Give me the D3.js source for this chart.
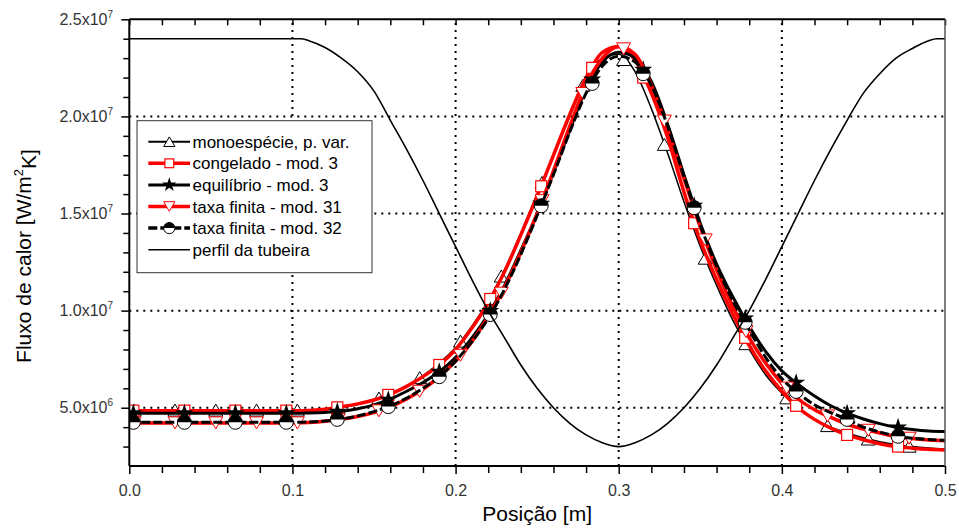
<!DOCTYPE html>
<html><head><meta charset="utf-8">
<script src="https://cdn.jsdelivr.net/npm/d3@7"></script>
<style>body{margin:0;background:#fff}svg{display:block}text{font-family:Arial,"Liberation Sans",sans-serif}</style>
</head><body><svg id="c" width="959" height="531"></svg>
<script>
// ---------- DATA (heat flux in units of 1e6 W/m2K) ----------
const xGrid = [0,0.01,0.02,0.03,0.04,0.05,0.06,0.07,0.08,0.09,0.10,0.11,0.12,0.13,0.14,0.15,0.16,0.17,0.18,0.19,0.20,0.21,0.22,0.23,0.24,0.25,0.26,0.27,0.28,0.29,0.30,0.31,0.32,0.33,0.34,0.35,0.36,0.37,0.38,0.39,0.40,0.41,0.42,0.43,0.44,0.45,0.46,0.47,0.48,0.49,0.50];
const monoLine = [4.88,4.88,4.88,4.88,4.88,4.88,4.88,4.88,4.88,4.88,4.88,4.9,4.94,5.02,5.17,5.4,5.72,6.13,6.65,7.3,8.1,9.2,10.5,12.1,14.0,16.0,18.0,20.0,22.0,23.0,23.2,22.3,20.4,18.1,15.6,13.3,11.3,9.5,8.0,6.7,5.75,4.95,4.4,4.0,3.7,3.45,3.25,3.1,3.0,2.93,2.88];
const congLine = [4.85,4.85,4.85,4.85,4.85,4.85,4.85,4.85,4.85,4.85,4.85,4.86,4.92,5.05,5.2,5.4,5.7,6.1,6.6,7.2,8.0,9.1,10.4,12.0,13.9,15.9,18.0,20.1,22.0,23.3,23.6,22.9,21.2,18.9,16.1,13.6,11.6,9.8,8.2,6.9,5.85,5.0,4.4,3.95,3.6,3.35,3.15,3.0,2.92,2.86,2.83];
const equiLine = [4.72,4.72,4.72,4.72,4.72,4.72,4.72,4.72,4.72,4.72,4.72,4.73,4.76,4.82,4.95,5.15,5.45,5.85,6.3,6.85,7.6,8.6,9.8,11.3,13.1,15.0,17.1,19.3,21.4,22.8,23.3,23.0,21.8,19.6,17.0,14.5,12.4,10.7,9.2,7.9,6.9,6.2,5.6,5.1,4.72,4.42,4.18,4.0,3.88,3.8,3.77];
const tx31Line = [4.22,4.22,4.22,4.22,4.22,4.22,4.22,4.22,4.22,4.22,4.22,4.24,4.3,4.4,4.55,4.75,5.05,5.45,5.95,6.6,7.4,8.4,9.7,11.2,13.0,15.0,17.2,19.5,21.6,23.0,23.6,23.2,21.6,19.3,16.8,14.3,12.1,10.2,8.6,7.3,6.25,5.45,4.9,4.5,4.15,3.9,3.7,3.52,3.41,3.34,3.3];
const tx32Line = [4.25,4.25,4.25,4.25,4.25,4.25,4.25,4.25,4.25,4.25,4.25,4.27,4.32,4.42,4.58,4.8,5.1,5.5,6.0,6.6,7.4,8.4,9.6,11.1,12.9,14.9,17.0,19.2,21.2,22.6,23.1,22.8,21.6,19.5,16.9,14.4,12.3,10.5,9.0,7.6,6.5,5.75,5.15,4.75,4.4,4.0,3.75,3.55,3.43,3.36,3.32];
const nozzleX = [0,0.05,0.10,0.105,0.11,0.12,0.13,0.14,0.15,0.16,0.17,0.18,0.19,0.20,0.21,0.22,0.23,0.24,0.25,0.26,0.27,0.28,0.29,0.30,0.31,0.32,0.33,0.34,0.35,0.36,0.37,0.38,0.39,0.40,0.41,0.42,0.43,0.44,0.45,0.46,0.47,0.48,0.49,0.495,0.50];
const nozzleY = [24,24,24,24,23.9,23.55,23.0,22.3,21.3,19.8,18.3,16.7,15.0,13.3,11.6,10.0,8.6,7.2,6.0,5.0,4.2,3.6,3.2,3.0,3.2,3.6,4.2,5.0,6.0,7.2,8.6,10.0,11.6,13.3,15.0,16.7,18.3,19.8,21.2,22.2,23.0,23.5,23.9,24.0,24.0];
// marker positions
const markXA = [0.0025,0.03375,0.065,0.09625,0.1275,0.15875,0.19,0.22125,0.2525,0.28375,0.315,0.34625,0.3775,0.40875,0.44,0.47125];
const markXB = [0.003,0.028,0.053,0.078,0.103,0.128,0.153,0.178,0.203,0.228,0.253,0.278,0.303,0.328,0.353,0.378,0.403,0.428,0.453,0.478];
const monoMark = [4.88,4.88,4.88,4.88,4.88,5.0,5.5,6.55,8.43,11.78,16.6,21.6,22.93,18.56,12.7,8.3,5.51,4.08,3.39,3.02];
const congMark = [4.85,4.85,4.85,4.85,5.02,5.66,7.2,10.6,16.4,22.5,22.0,14.5,8.6,5.1,3.6,3.0];
const equiMark = [4.72,4.72,4.72,4.72,4.8,5.41,6.85,9.99,15.5,21.9,22.4,15.4,9.6,6.29,4.72,3.99];
const tx31Mark = [4.22,4.22,4.22,4.22,4.22,4.38,4.84,5.85,7.7,10.9,15.66,21.18,23.48,19.76,13.64,8.92,6.01,4.58,3.84,3.43];
const tx32Mark = [4.25,4.25,4.25,4.25,4.4,5.06,6.6,9.8,15.4,21.7,22.2,15.3,9.4,5.84,4.4,3.53];
const legendLabels = ["monoespécie, p. var.","congelado - mod. 3","equilíbrio - mod. 3","taxa finita - mod. 31","taxa finita - mod. 32","perfil da tubeira"];
const xMajor = [0,0.1,0.2,0.3,0.4,0.5];
const yMajor = [5e6,1e7,1.5e7,2e7,2.5e7];
const yMajorLabels = [["5.0x10","6"],["1.0x10","7"],["1.5x10","7"],["2.0x10","7"],["2.5x10","7"]];
const xGridLines = [0.1,0.2,0.3,0.4];
const yGridLines = [5e6,1e7,1.5e7,2e7];
const E6 = 1e6;

// ---------- CHART ----------
const svg = d3.select("#c");
const L=129.3, R=945, T=19.3, B=466;
const x = d3.scaleLinear().domain([0,0.5]).range([L,R]);
const y = d3.scaleLinear().domain([2e6,2.5e7]).range([B,T]);

svg.append("defs").append("clipPath").attr("id","clip").append("rect")
  .attr("x",L).attr("y",T).attr("width",R-L).attr("height",B-T);

// grid
const grid = svg.append("g").attr("stroke","#000").attr("stroke-width",2).attr("stroke-dasharray","2,5");
grid.selectAll(".gx").data(xGridLines).join("line").attr("x1",d=>x(d)).attr("x2",d=>x(d)).attr("y1",B).attr("y2",T);
grid.selectAll(".gy").data(yGridLines).join("line").attr("y1",d=>y(d)).attr("y2",d=>y(d)).attr("x1",L).attr("x2",R);

const plot = svg.append("g").attr("clip-path","url(#clip)");
const line = d3.line().x(d=>x(d[0])).y(d=>y(d[1])).curve(d3.curveMonotoneX);
const zip = (xs,ys)=>xs.map((v,i)=>[v,ys[i]*E6]);

const RED="#ff0000";
function triPath(w,h,down){ return down ? `M${-w/2},${-h/2}L${w/2},${-h/2}L0,${h/2}Z` : `M0,${-h/2}L${w/2},${h/2}L${-w/2},${h/2}Z`; }
const sym = {
  up:(g,s)=>g.append("path").attr("d",triPath(14*s,12*s,false)).attr("fill","#fff").attr("stroke","#000").attr("stroke-width",1),
  sq:(g,s)=>g.append("rect").attr("x",-5.5*s).attr("y",-5.5*s).attr("width",11*s).attr("height",11*s).attr("fill","#fff").attr("stroke",RED).attr("stroke-width",1.2),
  star:(g,s)=>g.append("path").attr("d",d3.symbol(d3.symbolStar,(9.5*s)*(9.5*s)/0.8908130915292852)()).attr("fill","#000"),
  down:(g,s)=>g.append("path").attr("d",triPath(14*s,12*s,true)).attr("fill","#fff").attr("stroke",RED).attr("stroke-width",1),
  half:(g,s)=>{ const r=7*s; g.append("circle").attr("r",r).attr("fill","#fff").attr("stroke","#000").attr("stroke-width",1);
    g.append("path").attr("d",`M${-r},0A${r},${r} 0 0 1 ${r},0Z`).attr("fill","#000"); }
};

const series = [
  {line:zip(xGrid,monoLine), marks:zip(markXB,monoMark), color:"#000", w:1.5, dash:null, sym:"up"},
  {line:zip(xGrid,congLine), marks:zip(markXA,congMark), color:RED, w:3.5, dash:null, sym:"sq"},
  {line:zip(xGrid,equiLine), marks:zip(markXA,equiMark), color:"#000", w:3, dash:null, sym:"star"},
  {line:zip(xGrid,tx31Line), marks:zip(markXB,tx31Mark), color:RED, w:3.5, dash:null, sym:"down"},
  {line:zip(xGrid,tx32Line), marks:zip(markXA,tx32Mark), color:"#000", w:3, dash:"9,3", sym:"half"},
];
series.forEach(s=>{
  plot.append("path").datum(s.line).attr("d",line).attr("fill","none").attr("stroke",s.color).attr("stroke-width",s.w).attr("stroke-dasharray",s.dash);
  plot.selectAll(null).data(s.marks).join("g").attr("transform",d=>`translate(${x(d[0])},${y(d[1])})`).each(function(){ sym[s.sym](d3.select(this),1); });
});
plot.append("path").datum(zip(nozzleX,nozzleY)).attr("d",line).attr("fill","none").attr("stroke","#000").attr("stroke-width",1.6);

// axes
const xMinor = d3.range(0,0.5001,0.02).map(v=>+v.toFixed(2)).filter(v=>!xMajor.includes(v));
const yMinor = d3.range(3e6,2.5e7,1e6).filter(v=>!yMajor.includes(v));
const ax = svg.append("g");
function styleAxis(g){ g.select(".domain").remove(); g.selectAll(".tick line").attr("stroke","#000").attr("stroke-width",1.5); }
ax.append("g").attr("transform",`translate(0,${B})`).call(d3.axisBottom(x).tickValues(xMajor).tickSize(8).tickPadding(11).tickFormat(d3.format(".1f"))).call(styleAxis)
  .selectAll("text").attr("font-size",16).attr("fill","#333").attr("font-family","Arial, 'Liberation Sans', sans-serif");
ax.append("g").attr("transform",`translate(0,${B})`).call(d3.axisBottom(x).tickValues(xMinor).tickSize(7).tickFormat("")).call(styleAxis);
ax.append("g").attr("transform",`translate(0,${T})`).call(d3.axisTop(x).tickValues(xMajor.concat(xMinor)).tickSize(-6).tickFormat("")).call(styleAxis);
ax.append("g").attr("transform",`translate(${L},0)`).call(d3.axisLeft(y).tickValues(yMajor).tickSize(8).tickFormat("")).call(styleAxis);
ax.append("g").attr("transform",`translate(${L},0)`).call(d3.axisLeft(y).tickValues(yMinor).tickSize(6).tickFormat("")).call(styleAxis);
// y labels with superscript
const yl = ax.append("g").selectAll("text").data(yMajor).join("text")
  .attr("x",113).attr("y",d=>y(d)).attr("dy","0.36em").attr("text-anchor","end").attr("font-size",16).attr("fill","#333");
yl.append("tspan").text((d,i)=>yMajorLabels[i][0]);
yl.append("tspan").attr("dy","-0.75em").attr("font-size",10).text((d,i)=>yMajorLabels[i][1]);

// frame
svg.append("line").attr("x1",L).attr("x2",R).attr("y1",B).attr("y2",B).attr("stroke","#000").attr("stroke-width",2);
svg.append("line").attr("x1",L).attr("x2",L).attr("y1",T).attr("y2",B).attr("stroke","#000").attr("stroke-width",2);
svg.append("line").attr("x1",L).attr("x2",R).attr("y1",T).attr("y2",T).attr("stroke","#000").attr("stroke-width",2);
svg.append("line").attr("x1",R).attr("x2",R).attr("y1",T).attr("y2",B).attr("stroke","#555").attr("stroke-width",1.5);

// titles
svg.append("text").attr("x",(L+R)/2).attr("y",521).attr("text-anchor","middle").attr("font-size",21).attr("fill","#000").text("Posição [m]");
const yt = svg.append("text").attr("transform","translate(31,256) rotate(-90)").attr("text-anchor","middle").attr("font-size",21).attr("fill","#000");
yt.append("tspan").text("Fluxo de calor [W/m");
yt.append("tspan").attr("dy","-0.6em").attr("font-size",13).text("2");
yt.append("tspan").attr("dy","0.6em").text("K]");

// legend
const lg = svg.append("g");
lg.append("rect").attr("x",137).attr("y",120.7).attr("width",235).attr("height",152).attr("fill","#fff").attr("stroke","#333").attr("stroke-width",1);
const legSpec = [
  {color:"#000",w:2,dash:null,sym:"up"},
  {color:RED,w:3.5,dash:null,sym:"sq"},
  {color:"#000",w:3,dash:null,sym:"star"},
  {color:RED,w:3.5,dash:null,sym:"down"},
  {color:"#000",w:3.5,dash:"9,3",sym:"half"},
  {color:"#000",w:1.6,dash:null,sym:null}
];
legendLabels.forEach((lab,i)=>{
  const cy = 141.7 + i*21.6;
  const s = legSpec[i];
  lg.append("line").attr("x1",148.3).attr("x2",190).attr("y1",cy).attr("y2",cy).attr("stroke",s.color).attr("stroke-width",s.w).attr("stroke-dasharray",s.dash);
  if(s.sym){ const g=lg.append("g").attr("transform",`translate(169.3,${cy})`); sym[s.sym](g,0.8); }
  lg.append("text").attr("x",192.5).attr("y",cy).attr("dy","0.36em").attr("font-size",17).attr("fill","#000").text(lab);
});
</script></body></html>
